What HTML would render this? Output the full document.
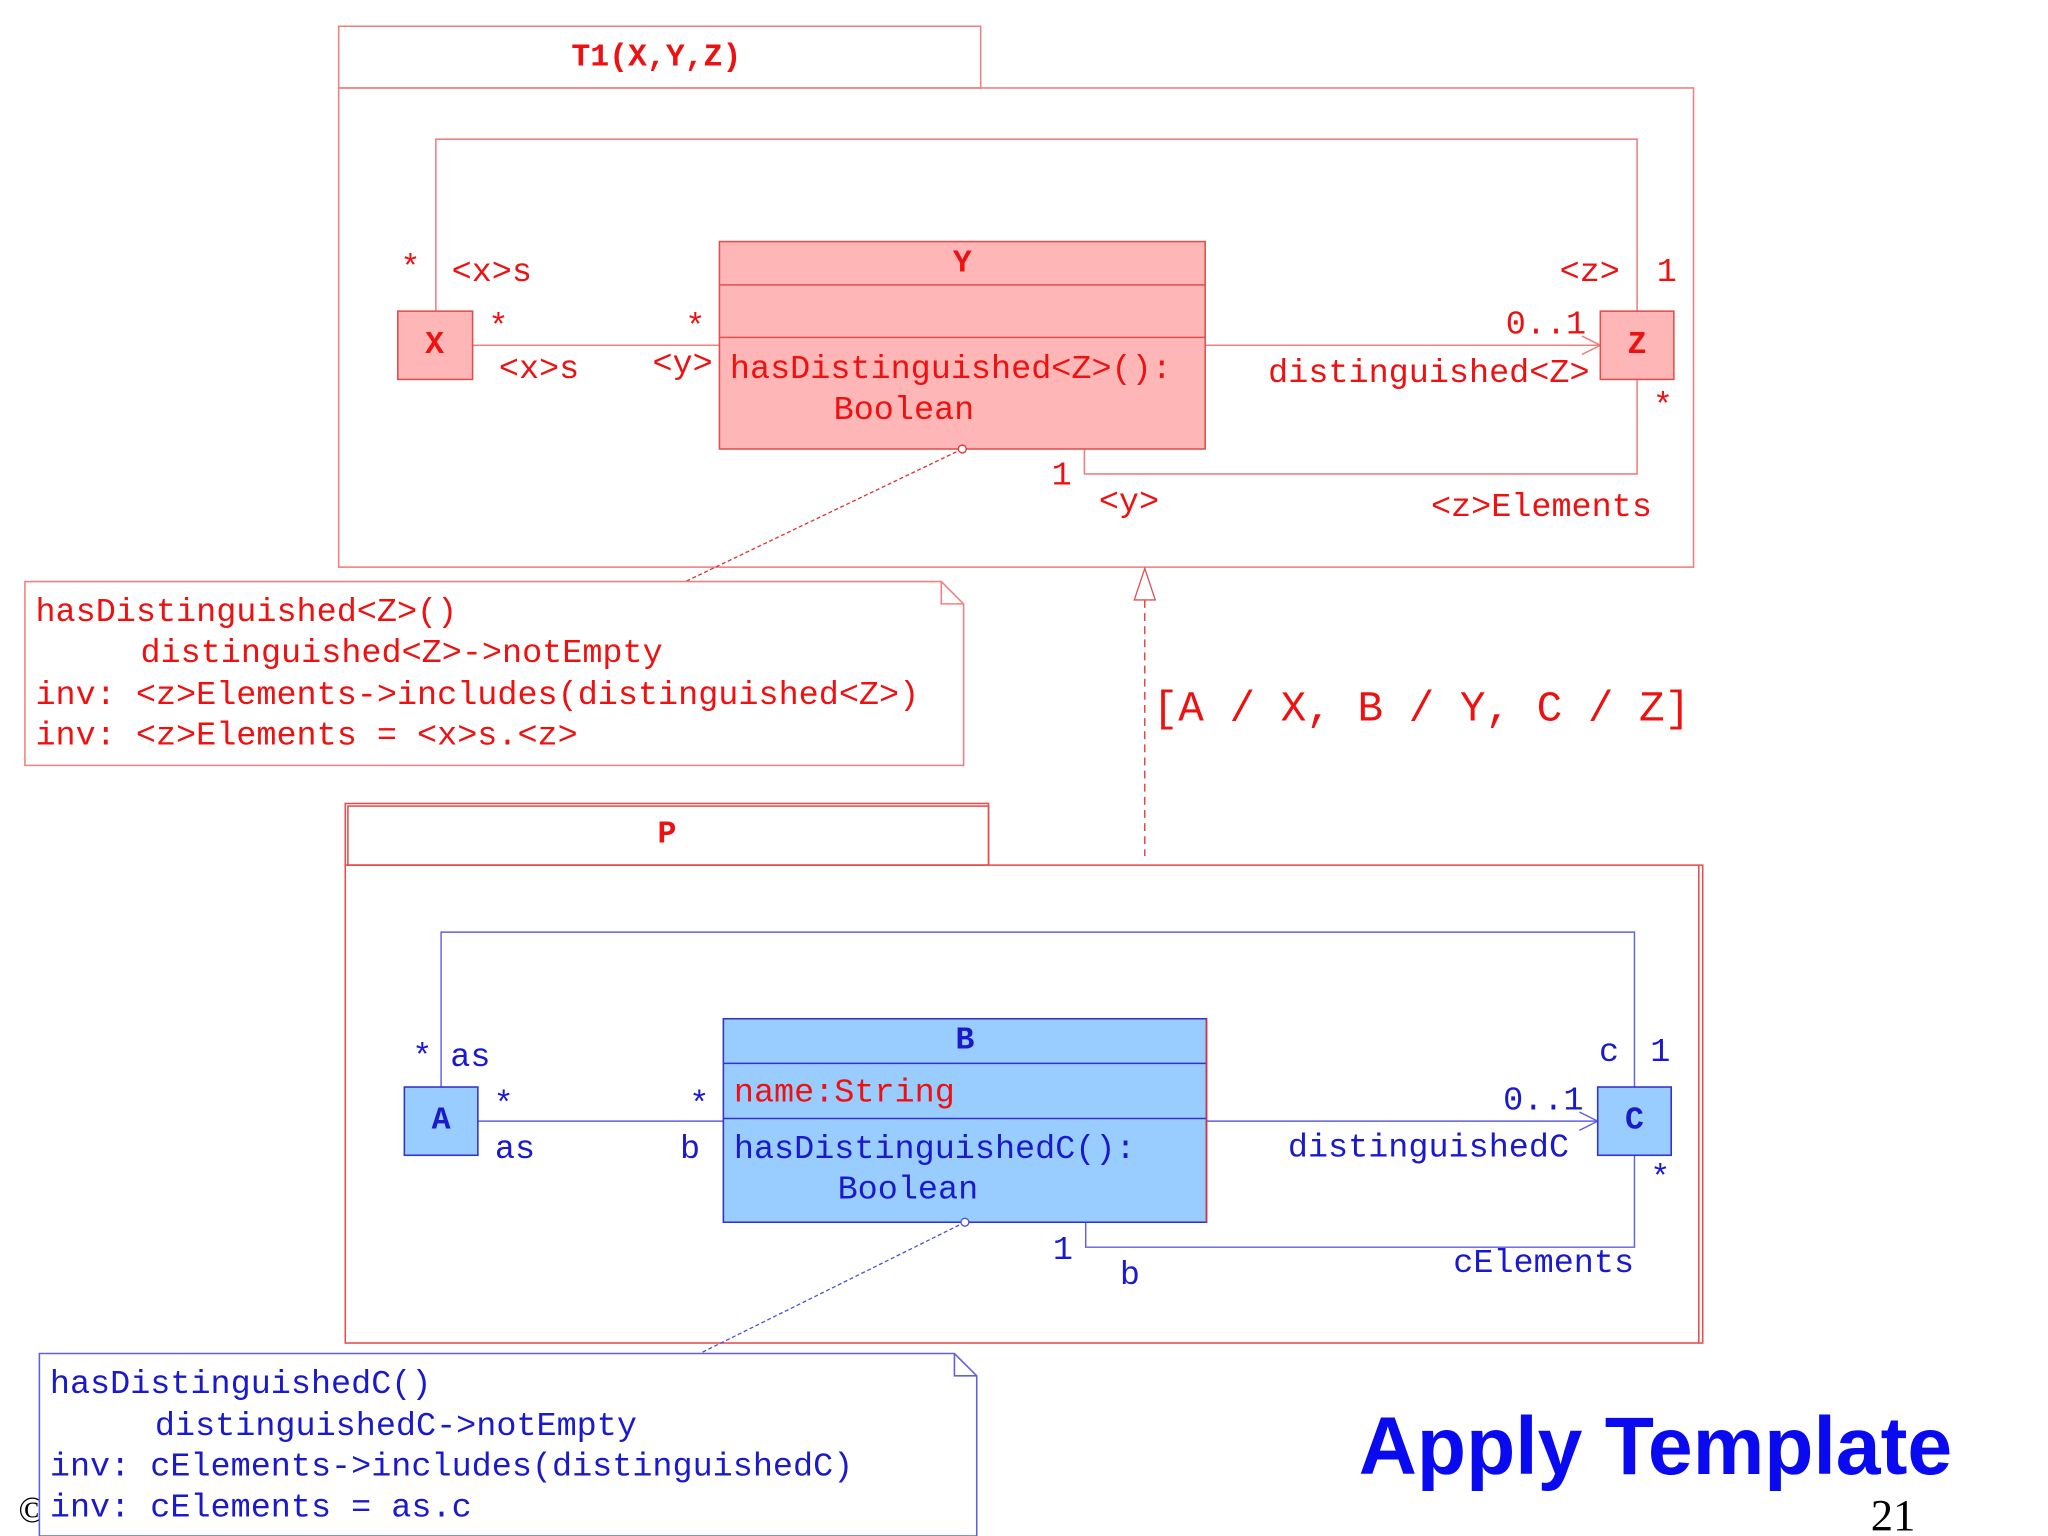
<!DOCTYPE html>
<html><head><meta charset="utf-8"><style>
html,body{margin:0;padding:0;background:#fff;}
svg{display:block;}
.m{font-family:"Liberation Mono",monospace;}
.r{fill:#ee1111;}
.b{fill:#1a1acc;}
</style></head><body>
<svg width="2048" height="1536" viewBox="0 0 1560 1170" xmlns="http://www.w3.org/2000/svg">
<rect width="1560" height="1170" fill="#fff"/>
<g dominant-baseline="central" font-size="25.5" class="m">
<!-- T1 template -->
<g fill="none" stroke="#f08080" stroke-width="1.2">
<rect x="258" y="20" width="489" height="47"/>
<rect x="258" y="67" width="1032" height="365"/>
<polyline points="332,237 332,106 1247,106 1247,237"/>
<polyline points="826,342 826,361 1247,361 1247,289"/>
<line x1="360" y1="263" x2="548" y2="263"/>
<line x1="918" y1="263" x2="1219" y2="263"/>
<polyline points="1205,256 1219,263 1205,270"/>
</g>
<text x="500" y="44" text-anchor="middle" class="r" font-weight="bold" font-size="24">T1(X,Y,Z)</text>
<rect x="303" y="237" width="57" height="52" fill="#ffb6b6" stroke="#e05050" stroke-width="1.2"/>
<text x="331" y="263" text-anchor="middle" class="r" font-weight="bold" font-size="24">X</text>
<rect x="1219" y="237" width="56" height="52" fill="#ffb6b6" stroke="#e05050" stroke-width="1.2"/>
<text x="1247" y="263" text-anchor="middle" class="r" font-weight="bold" font-size="24">Z</text>
<rect x="548" y="184" width="370" height="158" fill="#ffb6b6" stroke="#e05050" stroke-width="1.2"/>
<line x1="548" y1="217" x2="918" y2="217" stroke="#e05050" stroke-width="1.2"/>
<line x1="548" y1="257" x2="918" y2="257" stroke="#e05050" stroke-width="1.2"/>
<text x="733" y="201" text-anchor="middle" class="r" font-weight="bold" font-size="24">Y</text>
<text x="556" y="282" class="r">hasDistinguished&lt;Z&gt;():</text>
<text x="635" y="313" class="r">Boolean</text>
<text x="305" y="205" class="r">*</text>
<text x="344" y="208" class="r">&lt;x&gt;s</text>
<text x="372" y="250" class="r">*</text>
<text x="380" y="282" class="r">&lt;x&gt;s</text>
<text x="522" y="250" class="r">*</text>
<text x="497" y="278" class="r">&lt;y&gt;</text>
<text x="1188" y="208" class="r">&lt;z&gt;</text>
<text x="1262" y="208" class="r">1</text>
<text x="1147" y="248" class="r">0..1</text>
<text x="966" y="285" class="r">distinguished&lt;Z&gt;</text>
<text x="1259" y="310" class="r">*</text>
<text x="801" y="363" class="r">1</text>
<text x="837" y="383" class="r">&lt;y&gt;</text>
<text x="1090" y="387" class="r">&lt;z&gt;Elements</text>
<!-- note 1 -->
<line x1="733" y1="342" x2="522" y2="443" stroke="#e03030" stroke-width="1" stroke-dasharray="3,2"/>
<circle cx="733" cy="342" r="3" fill="#fff" stroke="#e03030"/>
<path d="M19,443 H717 L734,460 V583 H19 Z M717,443 V460 H734" fill="#fff" stroke="#f08080" stroke-width="1.2"/>
<text x="27" y="467" class="r">hasDistinguished&lt;Z&gt;()</text>
<text x="107" y="498" class="r">distinguished&lt;Z&gt;-&gt;notEmpty</text>
<text x="27" y="530" class="r">inv: &lt;z&gt;Elements-&gt;includes(distinguished&lt;Z&gt;)</text>
<text x="27" y="561" class="r">inv: &lt;z&gt;Elements = &lt;x&gt;s.&lt;z&gt;</text>
<!-- realization -->
<line x1="872" y1="457" x2="872" y2="652" stroke="#e03030" stroke-width="1" stroke-dasharray="6,4"/>
<polygon points="872,433 864,457 880,457" fill="#fff" stroke="#e05050" stroke-width="1"/>
<text x="878" y="540" class="r" font-size="32.5">[A / X, B / Y, C / Z]</text>
<!-- P package -->
<g fill="none" stroke="#e85050" stroke-width="1.2">
<rect x="263" y="612" width="490" height="47"/>
<rect x="265" y="614" width="488" height="45"/>
<rect x="263" y="659" width="1034" height="364"/>
<line x1="1294" y1="659" x2="1294" y2="1023"/>
</g>
<text x="508" y="636" text-anchor="middle" class="r" font-weight="bold" font-size="24">P</text>
<g fill="none" stroke="#6060e0" stroke-width="1.1">
<polyline points="336,828 336,710 1245,710 1245,828"/>
<polyline points="827,931 827,950 1245,950 1245,880"/>
<line x1="364" y1="854" x2="551" y2="854"/>
<line x1="919" y1="854" x2="1217" y2="854"/>
<polyline points="1203,847 1217,854 1203,861"/>
</g>
<rect x="308" y="828" width="56" height="52" fill="#99ccff" stroke="#3333cc" stroke-width="1.2"/>
<text x="336" y="854" text-anchor="middle" class="b" font-weight="bold" font-size="24">A</text>
<rect x="1217" y="828" width="56" height="52" fill="#99ccff" stroke="#3333cc" stroke-width="1.2"/>
<text x="1245" y="854" text-anchor="middle" class="b" font-weight="bold" font-size="24">C</text>
<rect x="551" y="776" width="368" height="155" fill="#99ccff" stroke="#3333cc" stroke-width="1.2"/>
<line x1="551" y1="810" x2="919" y2="810" stroke="#3333cc" stroke-width="1.2"/>
<line x1="551" y1="852" x2="919" y2="852" stroke="#3333cc" stroke-width="1.2"/>
<line x1="919" y1="776" x2="919" y2="931" stroke="#e03030" stroke-width="1.2"/>
<text x="735" y="793" text-anchor="middle" class="b" font-weight="bold" font-size="24">B</text>
<text x="559" y="833" class="r">name:String</text>
<text x="559" y="876" class="b">hasDistinguishedC():</text>
<text x="638" y="907" class="b">Boolean</text>
<text x="314" y="806" class="b">*</text>
<text x="343" y="806" class="b">as</text>
<text x="376" y="842" class="b">*</text>
<text x="377" y="876" class="b">as</text>
<text x="525" y="842" class="b">*</text>
<text x="518" y="876" class="b">b</text>
<text x="1218" y="802" class="b">c</text>
<text x="1257" y="802" class="b">1</text>
<text x="1145" y="839" class="b">0..1</text>
<text x="981" y="875" class="b">distinguishedC</text>
<text x="1257" y="898" class="b">*</text>
<text x="802" y="953" class="b">1</text>
<text x="853" y="972" class="b">b</text>
<text x="1107" y="963" class="b">cElements</text>
<!-- note 2 -->
<line x1="735" y1="931" x2="533" y2="1031" stroke="#5050d0" stroke-width="1" stroke-dasharray="3,2"/>
<circle cx="735" cy="931" r="3" fill="#fff" stroke="#5050d0"/>
<text x="14" y="1150" style="font-family:'Liberation Serif',serif" font-size="28" fill="#000">©</text>
<path d="M30,1031 H727 L744,1048 V1170 H30 Z M727,1031 V1048 H744" fill="#fff" stroke="#6060e0" stroke-width="1.2"/>
<text x="38" y="1055" class="b">hasDistinguishedC()</text>
<text x="118" y="1087" class="b">distinguishedC-&gt;notEmpty</text>
<text x="38" y="1118" class="b">inv: cElements-&gt;includes(distinguishedC)</text>
<text x="38" y="1149" class="b">inv: cElements = as.c</text>
<text x="1261" y="1102" text-anchor="middle" style="font-family:'Liberation Sans',sans-serif" font-weight="bold" font-size="62" fill="#0a0af0" textLength="452" lengthAdjust="spacingAndGlyphs">Apply Template</text>
<text x="1442" y="1154" text-anchor="middle" style="font-family:'Liberation Serif',serif" font-size="34" fill="#000">21</text>
</g>
</svg>
</body></html>
